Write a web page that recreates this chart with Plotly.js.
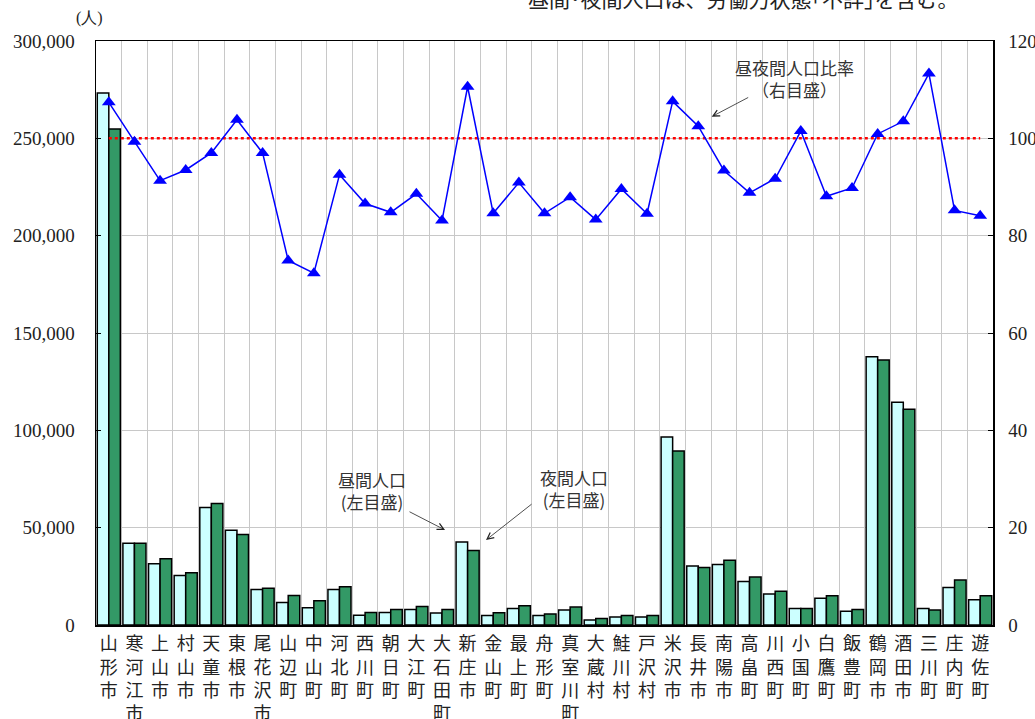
<!DOCTYPE html>
<html>
<head>
<meta charset="utf-8">
<script src="https://cdn.plot.ly/plotly-3.0.1.min.js"></script>
<style>html,body{margin:0;padding:0;background:#fff;}#chart{width:1035px;height:719px;}</style>
</head>
<body>
<div id="chart"></div>
<script>
const categories = ['山形市','寒河江市','上山市','村山市','天童市','東根市','尾花沢市','山辺町','中山町','河北町','西川町','朝日町','大江町','大石田町','新庄市','金山町','最上町','舟形町','真室川町','大蔵村','鮭川村','戸沢村','米沢市','長井市','南陽市','高畠町','川西町','小国町','白鷹町','飯豊町','鶴岡市','酒田市','三川町','庄内町','遊佐町'];
const dayPop = [273300, 42000, 31400, 25400, 60400, 48700, 18200, 11600, 8800, 18200, 5000, 6400, 8000, 6200, 42600, 4900, 8500, 4900, 7700, 2600, 4100, 4100, 96600, 30300, 31100, 22400, 15900, 8500, 13700, 7000, 137800, 114400, 8500, 19300, 13000];
const nightPop = [254800, 42000, 34000, 26800, 62400, 46500, 18900, 15200, 12400, 19600, 6400, 8000, 9500, 7900, 38300, 6300, 9900, 5700, 9200, 3400, 4900, 4900, 89400, 29600, 33200, 24600, 17300, 8500, 15000, 7900, 136100, 110800, 7700, 23100, 15000];
const ratio = [107.4, 99.3, 91.3, 93.5, 97.0, 103.8, 97.0, 74.9, 72.3, 92.5, 86.6, 84.8, 88.6, 83.1, 110.6, 84.6, 90.9, 84.6, 87.9, 83.3, 89.6, 84.5, 107.6, 102.5, 93.4, 88.8, 91.7, 101.5, 88.1, 89.8, 100.9, 103.5, 113.3, 85.2, 84.1];
const refValue = 100;
const leftTicks = [0, 50000, 100000, 150000, 200000, 250000, 300000];
const rightTicks = [0, 20, 40, 60, 80, 100, 120];

const labels = categories.map(c => c.split('').join('<br>'));
const serif = '"Liberation Serif", "DejaVu Serif", serif';
const jp = '"Noto Sans CJK JP", sans-serif';

const traces = [
  {type:'bar', x:labels, y:dayPop, name:'昼間人口', marker:{color:'#CCFFFF', line:{color:'#000', width:1.5}}},
  {type:'bar', x:labels, y:nightPop, name:'夜間人口', marker:{color:'#339966', line:{color:'#000', width:1.5}}},
  {type:'scatter', mode:'lines', x:labels, y:labels.map(() => refValue), yaxis:'y2', line:{color:'#FF0000', width:2.5, dash:'dot'}, hoverinfo:'skip'},
  {type:'scatter', mode:'lines+markers', x:labels, y:ratio, yaxis:'y2', name:'昼夜間人口比率', line:{color:'#0000FF', width:1.5}, marker:{symbol:'triangle-up', size:12, color:'#0000FF'}}
];

const layout = {
  width:1035, height:719,
  margin:{l:96, r:42, t:41, b:94},
  paper_bgcolor:'#fff', plot_bgcolor:'#fff',
  showlegend:false,
  barmode:'group', bargap:0.1, bargroupgap:0,
  xaxis:{type:'category', range:[-0.5, categories.length - 0.5], autorange:false, tickson:'boundaries', showgrid:true, gridcolor:'#c8c8c8', gridwidth:1,
         showline:true, linecolor:'#000', linewidth:1.5, mirror:true, ticks:'',
         tickfont:{family:jp, size:18, color:'#222'}, tickangle:0, ticklabelstandoff:2},
  yaxis:{range:[0,300000], tickvals:leftTicks, tickformat:',d', showgrid:true, gridcolor:'#c8c8c8', gridwidth:1,
         showline:true, linecolor:'#000', linewidth:1.5, ticks:'inside', ticklen:5, tickcolor:'#000',
         tickfont:{family:serif, size:19, color:'#222'}, ticklabelstandoff:16, zeroline:false},
  yaxis2:{range:[0,120], tickvals:rightTicks, overlaying:'y', side:'right', showgrid:false,
         showline:true, linecolor:'#000', linewidth:1.5, ticks:'inside', ticklen:5, tickcolor:'#000',
         tickfont:{family:serif, size:19, color:'#222'}, ticklabelstandoff:10, zeroline:false},
  annotations:[
    {xref:'paper', yref:'paper', x:0.7224, y:1.073, xanchor:'center', yanchor:'middle', showarrow:false,
     text:'昼間･夜間人口は、労働力状態｢不詳｣を含む。', font:{family:jp, size:21, color:'#222'}},
    {xref:'paper', yref:'paper', x:-0.0067, y:1.039, xanchor:'center', yanchor:'middle', showarrow:false,
     text:'(人)', font:{family:serif, size:16, color:'#222'}},
    {xref:'paper', yref:'paper', x:0.779, y:0.9366, xanchor:'center', yanchor:'middle', showarrow:false,
     text:'昼夜間人口比率<br>（右目盛）', font:{family:jp, size:17, color:'#333'}},
    {xref:'paper', yref:'paper', x:0.6864, y:0.8704, text:'', showarrow:true, arrowhead:5, arrowsize:1.6, arrowwidth:0.8, arrowcolor:'#222', ax:38, ay:-20},
    {xref:'paper', yref:'paper', x:0.3076, y:0.2295, xanchor:'center', yanchor:'middle', showarrow:false,
     text:'昼間人口<br>(左目盛)', font:{family:jp, size:17, color:'#333'}},
    {xref:'paper', yref:'paper', x:0.3891, y:0.1627, text:'', showarrow:true, arrowhead:5, arrowsize:1.6, arrowwidth:0.8, arrowcolor:'#222', ax:-37, ay:-19},
    {xref:'paper', yref:'paper', x:0.5329, y:0.2329, xanchor:'center', yanchor:'middle', showarrow:false,
     text:'夜間人口<br>(左目盛)', font:{family:jp, size:17, color:'#333'}},
    {xref:'paper', yref:'paper', x:0.4348, y:0.1455, text:'', showarrow:true, arrowhead:5, arrowsize:1.6, arrowwidth:0.8, arrowcolor:'#222', ax:47, ay:-37}
  ]
};

Plotly.newPlot('chart', traces, layout, {displayModeBar:false, staticPlot:true});
</script>
</body>
</html>
